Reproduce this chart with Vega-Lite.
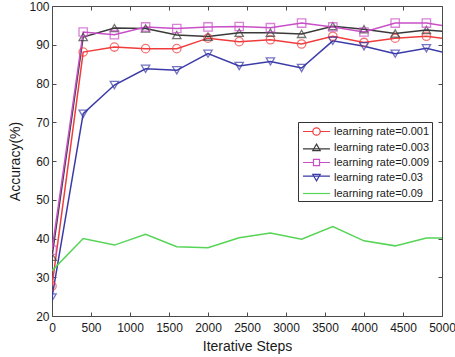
{
  "$schema": "https://vega.github.io/schema/vega-lite/v6.json",
  "width": 390,
  "height": 310,
  "autosize": {"type": "none"},
  "padding": {"left": 52, "top": 6, "right": 13, "bottom": 41},
  "background": "white",
  "config": {
    "font": "Liberation Sans",
    "view": {"stroke": "#4a4a4a", "strokeWidth": 1},
    "axis": {
      "domain": false,
      "grid": false,
      "tickColor": "#4a4a4a",
      "tickSize": -4,
      "labelFont": "Liberation Sans",
      "labelFontSize": 12,
      "labelColor": "#1a1a1a",
      "titleFont": "Liberation Sans",
      "titleFontSize": 14,
      "titleFontWeight": "normal",
      "titleColor": "#1a1a1a"
    }
  },
  "data": {
    "values": [
      {"step": 0, "acc": 27.7, "series": "learning rate=0.001"},
      {"step": 400, "acc": 88.1, "series": "learning rate=0.001"},
      {"step": 800, "acc": 89.4, "series": "learning rate=0.001"},
      {"step": 1200, "acc": 89.0, "series": "learning rate=0.001"},
      {"step": 1600, "acc": 89.0, "series": "learning rate=0.001"},
      {"step": 2000, "acc": 91.7, "series": "learning rate=0.001"},
      {"step": 2400, "acc": 90.8, "series": "learning rate=0.001"},
      {"step": 2800, "acc": 91.3, "series": "learning rate=0.001"},
      {"step": 3200, "acc": 90.2, "series": "learning rate=0.001"},
      {"step": 3600, "acc": 92.2, "series": "learning rate=0.001"},
      {"step": 4000, "acc": 90.6, "series": "learning rate=0.001"},
      {"step": 4400, "acc": 91.7, "series": "learning rate=0.001"},
      {"step": 4800, "acc": 92.2, "series": "learning rate=0.001"},
      {"step": 5200, "acc": 91.1, "series": "learning rate=0.001"},

      {"step": 0, "acc": 35.3, "series": "learning rate=0.003"},
      {"step": 400, "acc": 92.0, "series": "learning rate=0.003"},
      {"step": 800, "acc": 94.3, "series": "learning rate=0.003"},
      {"step": 1200, "acc": 94.2, "series": "learning rate=0.003"},
      {"step": 1600, "acc": 92.5, "series": "learning rate=0.003"},
      {"step": 2000, "acc": 92.1, "series": "learning rate=0.003"},
      {"step": 2400, "acc": 93.1, "series": "learning rate=0.003"},
      {"step": 2800, "acc": 93.1, "series": "learning rate=0.003"},
      {"step": 3200, "acc": 92.8, "series": "learning rate=0.003"},
      {"step": 3600, "acc": 94.8, "series": "learning rate=0.003"},
      {"step": 4000, "acc": 94.0, "series": "learning rate=0.003"},
      {"step": 4400, "acc": 92.9, "series": "learning rate=0.003"},
      {"step": 4800, "acc": 93.8, "series": "learning rate=0.003"},
      {"step": 5200, "acc": 93.2, "series": "learning rate=0.003"},

      {"step": 0, "acc": 37.0, "series": "learning rate=0.009"},
      {"step": 400, "acc": 93.3, "series": "learning rate=0.009"},
      {"step": 800, "acc": 92.6, "series": "learning rate=0.009"},
      {"step": 1200, "acc": 94.6, "series": "learning rate=0.009"},
      {"step": 1600, "acc": 94.2, "series": "learning rate=0.009"},
      {"step": 2000, "acc": 94.6, "series": "learning rate=0.009"},
      {"step": 2400, "acc": 94.7, "series": "learning rate=0.009"},
      {"step": 2800, "acc": 94.4, "series": "learning rate=0.009"},
      {"step": 3200, "acc": 95.6, "series": "learning rate=0.009"},
      {"step": 3600, "acc": 94.6, "series": "learning rate=0.009"},
      {"step": 4000, "acc": 93.3, "series": "learning rate=0.009"},
      {"step": 4400, "acc": 95.6, "series": "learning rate=0.009"},
      {"step": 4800, "acc": 95.6, "series": "learning rate=0.009"},
      {"step": 5200, "acc": 94.3, "series": "learning rate=0.009"},

      {"step": 0, "acc": 24.8, "series": "learning rate=0.03"},
      {"step": 400, "acc": 72.2, "series": "learning rate=0.03"},
      {"step": 800, "acc": 79.6, "series": "learning rate=0.03"},
      {"step": 1200, "acc": 83.8, "series": "learning rate=0.03"},
      {"step": 1600, "acc": 83.4, "series": "learning rate=0.03"},
      {"step": 2000, "acc": 87.7, "series": "learning rate=0.03"},
      {"step": 2400, "acc": 84.5, "series": "learning rate=0.03"},
      {"step": 2800, "acc": 85.7, "series": "learning rate=0.03"},
      {"step": 3200, "acc": 84.0, "series": "learning rate=0.03"},
      {"step": 3600, "acc": 91.0, "series": "learning rate=0.03"},
      {"step": 4000, "acc": 89.6, "series": "learning rate=0.03"},
      {"step": 4400, "acc": 87.7, "series": "learning rate=0.03"},
      {"step": 4800, "acc": 89.1, "series": "learning rate=0.03"},
      {"step": 5200, "acc": 87.2, "series": "learning rate=0.03"},

      {"step": 0, "acc": 31.7, "series": "learning rate=0.09"},
      {"step": 400, "acc": 40.0, "series": "learning rate=0.09"},
      {"step": 800, "acc": 38.3, "series": "learning rate=0.09"},
      {"step": 1200, "acc": 41.1, "series": "learning rate=0.09"},
      {"step": 1600, "acc": 37.9, "series": "learning rate=0.09"},
      {"step": 2000, "acc": 37.6, "series": "learning rate=0.09"},
      {"step": 2400, "acc": 40.2, "series": "learning rate=0.09"},
      {"step": 2800, "acc": 41.4, "series": "learning rate=0.09"},
      {"step": 3200, "acc": 39.8, "series": "learning rate=0.09"},
      {"step": 3600, "acc": 43.1, "series": "learning rate=0.09"},
      {"step": 4000, "acc": 39.4, "series": "learning rate=0.09"},
      {"step": 4400, "acc": 38.1, "series": "learning rate=0.09"},
      {"step": 4800, "acc": 40.1, "series": "learning rate=0.09"},
      {"step": 5200, "acc": 40.1, "series": "learning rate=0.09"}
    ]
  },
  "resolve": {
    "axis": {"x": "independent", "y": "independent"},
    "scale": {"color": "independent", "shape": "independent"},
    "legend": {"color": "independent", "shape": "independent"}
  },
  "layer": [
    {
      "mark": {"type": "line", "clip": true, "strokeWidth": 1.5},
      "encoding": {
        "x": {
          "field": "step", "type": "quantitative",
          "scale": {"domain": [0, 5000], "nice": false, "zero": false},
          "axis": {"orient": "bottom", "title": "Iterative Steps", "format": "d", "values": [0, 500, 1000, 1500, 2000, 2500, 3000, 3500, 4000, 4500, 5000], "labelPadding": 10, "titlePadding": 6, "labelFlush": false, "labelOverlap": false}
        },
        "y": {
          "field": "acc", "type": "quantitative",
          "scale": {"domain": [20, 100], "nice": false, "zero": false},
          "axis": {"orient": "left", "title": "Accuracy(%)", "values": [20, 30, 40, 50, 60, 70, 80, 90, 100], "labelPadding": 7, "titlePadding": 6}
        },
        "color": {
          "field": "series", "type": "nominal",
          "scale": {
            "domain": ["learning rate=0.001", "learning rate=0.003", "learning rate=0.009", "learning rate=0.03", "learning rate=0.09"],
            "range": ["#f03c3c", "#3a3a3a", "#c84fc8", "#3a3aa8", "#55d455"]
          },
          "legend": {
            "title": null,
            "orient": "none",
            "legendX": 246,
            "legendY": 116,
            "fillColor": "white",
            "strokeColor": "#333333",
            "padding": 2,
            "rowPadding": 2,
            "symbolSize": 182,
            "symbolStrokeWidth": 1.2,
            "symbolFillColor": "transparent",
            "symbolOffset": 9,
            "labelOffset": 10,
            "labelFont": "Liberation Sans",
            "labelFontSize": 11,
            "labelColor": "#1a1a1a",
            "labelLimit": 200,
            "encode": {
              "symbols": {
                "update": {
                  "shape": {"signal": "datum.value === 'learning rate=0.001' ? 'M-2,0H-0.55M0.55,0H2M0.55,0A0.55,0.55,0,1,1,-0.55,0A0.55,0.55,0,1,1,0.55,0Z' : datum.value === 'learning rate=0.003' ? 'M-2,0.2H2M0,-0.5L0.55,0.45L-0.55,0.45Z' : datum.value === 'learning rate=0.009' ? 'M-2,0H-0.45M0.45,0H2M-0.45,-0.45H0.45V0.45H-0.45Z' : datum.value === 'learning rate=0.03' ? 'M-2,-0.2H2M0,0.5L0.55,-0.45L-0.55,-0.45Z' : 'M-2,0H2'"}
                }
              }
            }
          }
        }
      }
    },
    {
      "transform": [{"filter": "datum.series !== 'learning rate=0.09'"}],
      "mark": {"type": "point", "clip": true, "filled": false, "size": 70, "strokeWidth": 1.3},
      "encoding": {
        "x": {
          "field": "step", "type": "quantitative",
          "axis": {"orient": "top", "title": null, "labels": false, "values": [0, 500, 1000, 1500, 2000, 2500, 3000, 3500, 4000, 4500, 5000]}
        },
        "y": {
          "field": "acc", "type": "quantitative",
          "axis": {"orient": "right", "title": null, "labels": false, "values": [20, 30, 40, 50, 60, 70, 80, 90, 100]}
        },
        "color": {
          "field": "series", "type": "nominal", "legend": null,
          "scale": {
            "domain": ["learning rate=0.001", "learning rate=0.003", "learning rate=0.009", "learning rate=0.03"],
            "range": ["#f03c3c", "#3a3a3a", "#c84fc8", "#3a3aa8"]
          }
        },
        "shape": {
          "field": "series", "type": "nominal", "legend": null,
          "scale": {
            "domain": ["learning rate=0.001", "learning rate=0.003", "learning rate=0.009", "learning rate=0.03"],
            "range": ["circle", "triangle-up", "square", "triangle-down"]
          }
        }
      }
    }
  ]
}
